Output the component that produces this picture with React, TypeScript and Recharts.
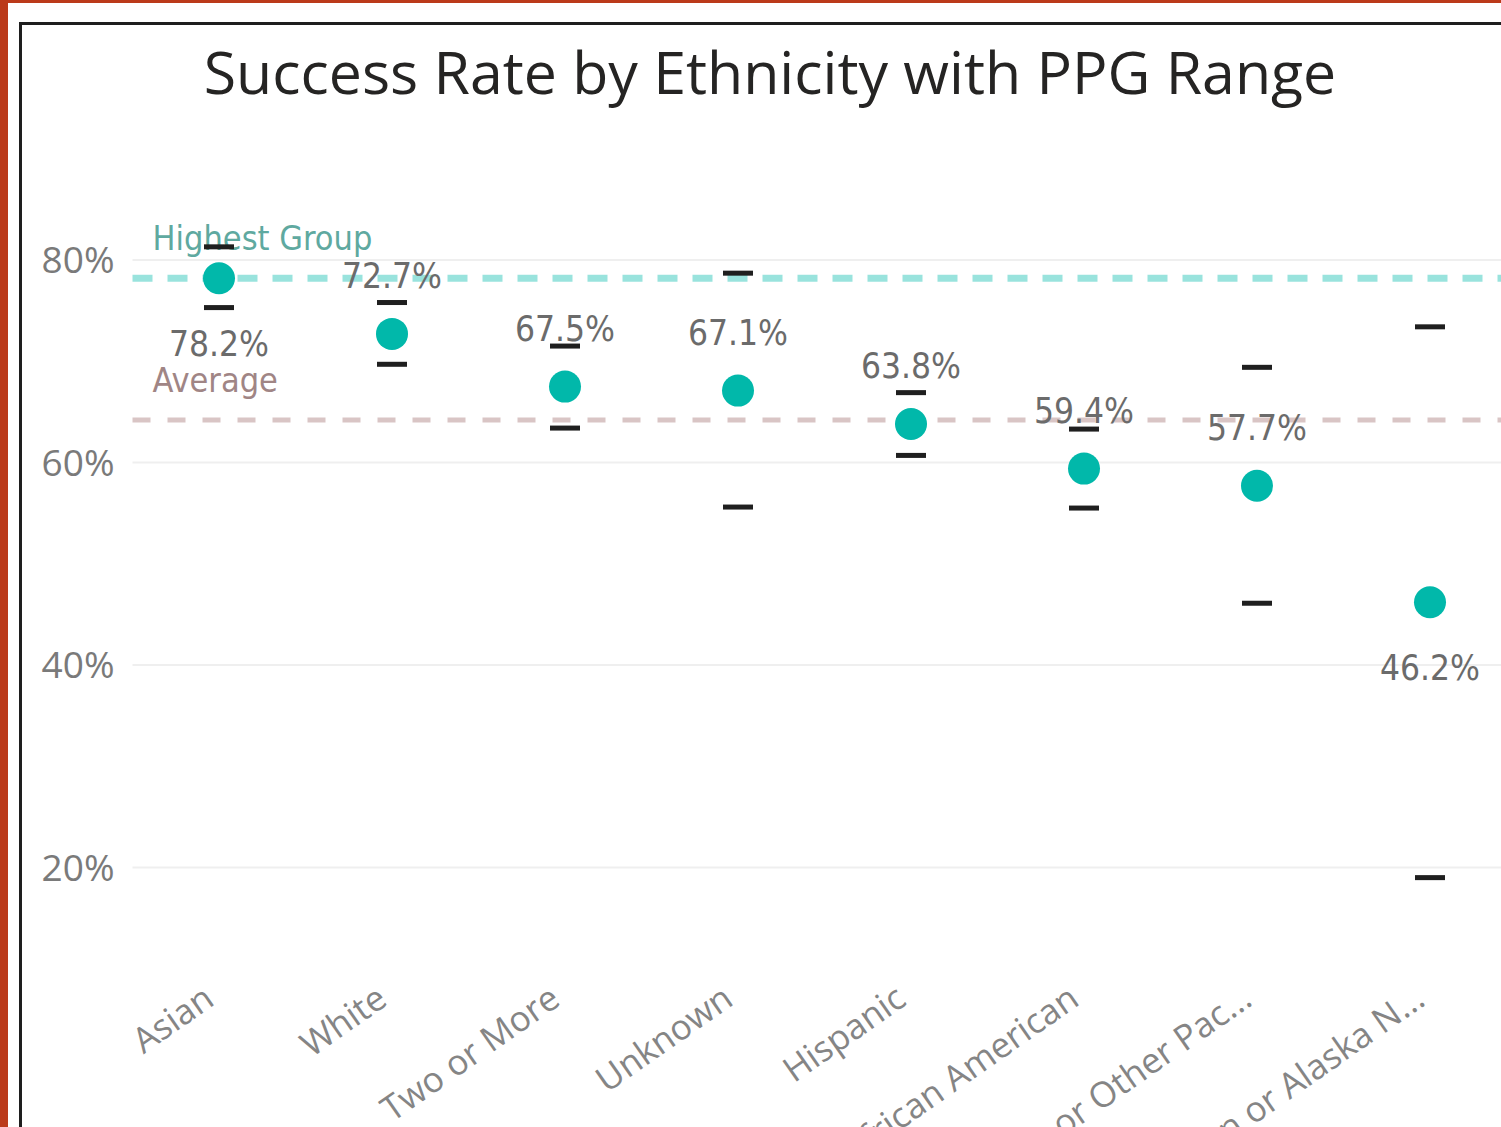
import React from "react";
import {
  CartesianGrid,
  ComposedChart,
  LabelList,
  ReferenceLine,
  Scatter,
  XAxis,
  YAxis,
} from "recharts";

const categories = [
  "Asian",
  "White",
  "Two or More",
  "Unknown",
  "Hispanic",
  "Black or African American",
  "Native Hawaiian or Other Pac...",
  "American Indian or Alaska N...",
];

// success rate (%) per group
const successRates = [78.2, 72.7, 67.5, 67.1, 63.8, 59.4, 57.7, 46.2];

// PPG range per group (%)
const ppgHigh = [81.3, 75.8, 71.5, 78.7, 66.9, 63.3, 69.4, 73.4];
const ppgLow = [75.3, 69.7, 63.4, 55.6, 60.7, 55.5, 46.1, 19.0];

const yTicks = [20, 40, 60, 80];
const averageRate = 64.2;
const highestRate = Math.max(...successRates);

// groups whose data label sits under the dot instead of above it
const labelBelow = new Set(["Asian", "American Indian or Alaska N..."]);

const data = categories.map((name, i) => ({
  name,
  rate: successRates[i],
  high: ppgHigh[i],
  low: ppgLow[i],
}));

const TEAL = "#01B8AA";
const LABEL_FONT = "'DejaVu Sans Condensed', 'Liberation Sans Narrow', Roboto, sans-serif";
const AXIS_FONT = "'Open Sans', 'Noto Sans', sans-serif";

function RangeMark(props: any) {
  const { cx, cy } = props;
  if (cx == null || cy == null) return null;
  return <rect x={cx - 15} y={cy - 2.5} width={30} height={5} fill="#1f1f1f" />;
}

function RateDot(props: any) {
  const { cx, cy } = props;
  if (cx == null || cy == null) return null;
  return <circle cx={cx} cy={cy} r={16} fill={TEAL} />;
}

function RateLabel(props: any) {
  const { x, y, width, height, value, index } = props;
  const cx = x + width / 2;
  const cy = y + height / 2;
  const below = labelBelow.has(categories[index]);
  return (
    <text
      x={cx}
      y={below ? cy + 66 : cy - 58}
      textAnchor="middle"
      dominantBaseline="central"
      fontFamily={LABEL_FONT}
      fontSize={35}
      fill="#6b6b6b"
    >
      {`${value.toFixed(1)}%`}
    </text>
  );
}

function CategoryTick(props: any) {
  const { x, y, payload } = props;
  return (
    <g transform={`translate(${x - 3},${y + 27})`}>
      <text
        textAnchor="end"
        transform="rotate(-35)"
        fontFamily={AXIS_FONT}
        fontSize={35}
        fill="#858585"
      >
        {payload.value}
      </text>
    </g>
  );
}

function refLabel(text: string, color: string) {
  return (props: any) => {
    const { viewBox } = props;
    return (
      <text
        x={viewBox.x + 20}
        y={viewBox.y - 40}
        dominantBaseline="central"
        fontFamily={LABEL_FONT}
        fontSize={34}
        fill={color}
      >
        {text}
      </text>
    );
  };
}

export default function App() {
  return (
    <div
      style={{
        position: "fixed",
        left: 0,
        top: 0,
        width: 1501,
        height: 1127,
        overflow: "hidden",
        background: "#bb3a1a",
      }}
    >
      <div
        style={{
          position: "absolute",
          left: 8,
          top: 3,
          width: 1600,
          height: 1200,
          background: "#ffffff",
        }}
      />
      <div
        style={{
          position: "absolute",
          left: 19,
          top: 22,
          width: 1600,
          height: 1200,
          border: "3px solid #1e1e1e",
        }}
      />
      <div
        style={{
          position: "absolute",
          left: 0,
          top: 31,
          width: 1540,
          textAlign: "center",
          fontFamily: AXIS_FONT,
          fontSize: 59,
          color: "#252423",
          whiteSpace: "nowrap",
        }}
      >
        Success Rate by Ethnicity with PPG Range
      </div>
      <div style={{ position: "absolute", left: 0, top: 0 }}>
        <ComposedChart
          width={1540}
          height={1127}
          data={data}
          margin={{ top: 199.25, right: 23.5, bottom: 8.25, left: 20 }}
        >
          <CartesianGrid
            vertical={false}
            horizontalValues={yTicks}
            stroke="#efefef"
            strokeWidth={2}
          />
          <XAxis
            dataKey="name"
            type="category"
            interval={0}
            padding={{ left: 86.5, right: 86.5 }}
            tickLine={false}
            axisLine={false}
            height={150}
            tick={<CategoryTick />}
          />
          <YAxis
            type="number"
            domain={[10, 86]}
            ticks={yTicks}
            width={112.5}
            tickLine={false}
            axisLine={false}
            tickMargin={12}
            tickFormatter={(v) => `${v}%`}
            tick={{ fontFamily: AXIS_FONT, fontSize: 37, fill: "#7a7a7a" }}
          />
          <ReferenceLine
            y={highestRate}
            stroke={TEAL}
            strokeOpacity={0.4}
            strokeWidth={7}
            strokeDasharray="20 15"
            label={refLabel("Highest Group", "#5fa9a0")}
          />
          <ReferenceLine
            y={averageRate}
            stroke="#c4a6a6"
            strokeOpacity={0.65}
            strokeWidth={5}
            strokeDasharray="18 17"
            label={refLabel("Average", "#a08585")}
          />
          <Scatter dataKey="high" shape={<RangeMark />} isAnimationActive={false} />
          <Scatter dataKey="low" shape={<RangeMark />} isAnimationActive={false} />
          <Scatter dataKey="rate" shape={<RateDot />} isAnimationActive={false}>
            <LabelList dataKey="rate" content={<RateLabel />} />
          </Scatter>
        </ComposedChart>
      </div>
    </div>
  );
}
